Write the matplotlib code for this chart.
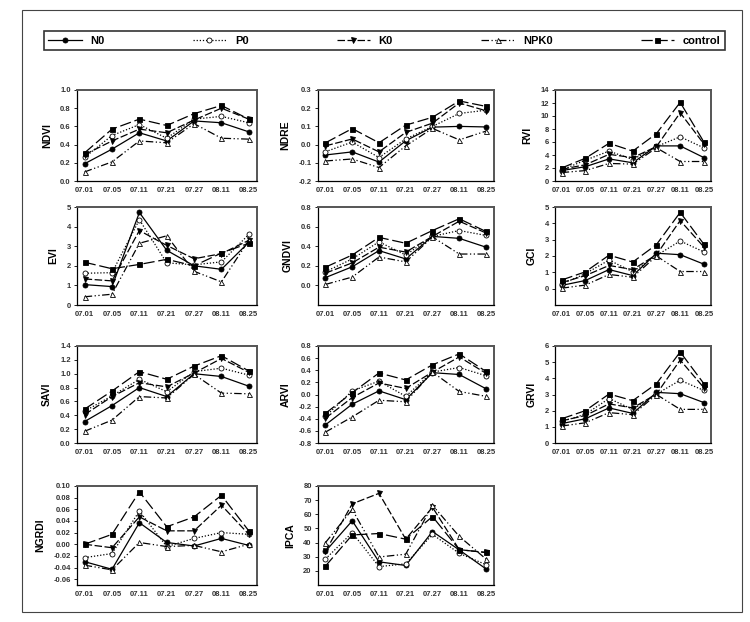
import matplotlib
matplotlib.use("Agg")
import matplotlib.pyplot as plt
from matplotlib.lines import Line2D
from matplotlib.patches import Rectangle
from matplotlib.ticker import FormatStrFormatter

plt.rcParams['font.family'] = ['Liberation Sans', 'DejaVu Sans']
plt.rcParams['axes.unicode_minus'] = False

dates = ["07.01", "07.05", "07.11", "07.21", "07.27", "08.11", "08.25"]
treatments = ["N0", "P0", "K0", "NPK0", "control"]

# values, one dict per index
ndvi = {"N0": [0.19, 0.35, 0.53, 0.44, 0.66, 0.64, 0.54],
        "P0": [0.26, 0.50, 0.62, 0.47, 0.68, 0.71, 0.64],
        "K0": [0.29, 0.44, 0.57, 0.53, 0.67, 0.80, 0.68],
        "NPK0": [0.10, 0.21, 0.44, 0.42, 0.63, 0.47, 0.46],
        "control": [0.31, 0.57, 0.68, 0.61, 0.74, 0.83, 0.68]}
ndre = {"N0": [-0.057, -0.040, -0.096, 0.021, 0.096, 0.100, 0.097],
        "P0": [-0.039, 0.014, -0.071, 0.031, 0.100, 0.171, 0.189],
        "K0": [-0.007, 0.031, -0.040, 0.067, 0.118, 0.229, 0.186],
        "NPK0": [-0.090, -0.079, -0.126, -0.007, 0.089, 0.026, 0.074],
        "control": [0.010, 0.088, 0.010, 0.107, 0.150, 0.240, 0.210]}
rvi = {"N0": [1.6, 2.2, 3.4, 2.8, 5.4, 5.4, 3.6],
       "P0": [1.7, 3.2, 4.6, 3.3, 5.3, 6.8, 5.1],
       "K0": [1.8, 2.5, 4.1, 3.6, 5.3, 10.5, 5.7],
       "NPK0": [1.3, 1.6, 2.7, 2.6, 5.1, 3.0, 3.0],
       "control": [2.0, 3.5, 5.8, 4.6, 7.3, 12.1, 6.0]}
evi = {"N0": [1.04, 0.94, 4.72, 2.79, 2.00, 1.82, 3.20],
       "P0": [1.62, 1.65, 4.35, 2.15, 2.05, 2.20, 3.60],
       "K0": [1.33, 1.23, 3.80, 3.04, 2.36, 2.62, 3.30],
       "NPK0": [0.42, 0.55, 3.15, 3.53, 1.72, 1.18, 3.30],
       "control": [2.18, 1.85, 2.07, 2.33, 2.00, 2.65, 3.15]}
gndvi = {"N0": [0.08, 0.19, 0.355, 0.27, 0.50, 0.48, 0.39],
         "P0": [0.14, 0.27, 0.445, 0.31, 0.50, 0.56, 0.51],
         "K0": [0.125, 0.23, 0.39, 0.34, 0.50, 0.655, 0.535],
         "NPK0": [0.01, 0.085, 0.29, 0.24, 0.495, 0.32, 0.32],
         "control": [0.186, 0.31, 0.49, 0.43, 0.56, 0.68, 0.55]}
gci = {"N0": [0.20, 0.50, 1.17, 0.80, 2.17, 2.08, 1.50],
       "P0": [0.28, 0.92, 1.75, 1.03, 2.03, 2.92, 2.25],
       "K0": [0.37, 0.80, 1.42, 1.17, 2.08, 4.17, 2.55],
       "NPK0": [0.03, 0.22, 0.87, 0.70, 2.00, 1.05, 1.05],
       "control": [0.53, 1.03, 2.05, 1.63, 2.70, 4.67, 2.72]}
savi = {"N0": [0.31, 0.54, 0.80, 0.67, 1.00, 0.96, 0.82],
        "P0": [0.46, 0.68, 0.92, 0.74, 1.03, 1.08, 0.98],
        "K0": [0.41, 0.67, 0.87, 0.81, 1.01, 1.22, 1.02],
        "NPK0": [0.17, 0.33, 0.67, 0.65, 0.99, 0.72, 0.71],
        "control": [0.49, 0.75, 1.03, 0.92, 1.11, 1.26, 1.04]}
arvi = {"N0": [-0.50, -0.16, 0.06, -0.085, 0.36, 0.33, 0.095],
        "P0": [-0.36, 0.06, 0.22, -0.03, 0.37, 0.445, 0.31],
        "K0": [-0.39, -0.05, 0.19, 0.10, 0.37, 0.62, 0.35],
        "NPK0": [-0.62, -0.37, -0.095, -0.12, 0.37, 0.05, -0.03],
        "control": [-0.31, 0.03, 0.355, 0.24, 0.49, 0.67, 0.38]}
grvi = {"N0": [1.20, 1.50, 2.17, 1.83, 3.13, 3.05, 2.50],
        "P0": [1.33, 1.78, 2.75, 2.08, 3.03, 3.88, 3.25],
        "K0": [1.37, 1.70, 2.42, 2.17, 3.03, 5.13, 3.42],
        "NPK0": [1.05, 1.25, 1.88, 1.75, 3.00, 2.08, 2.08],
        "control": [1.50, 2.00, 3.03, 2.62, 3.67, 5.63, 3.67]}
ngrdi = {"N0": [-0.030, -0.043, 0.037, 0.003, -0.003, 0.010, -0.002],
         "P0": [-0.023, -0.016, 0.057, -0.004, 0.010, 0.020, 0.017],
         "K0": [0.000, -0.006, 0.047, 0.023, 0.023, 0.067, 0.017],
         "NPK0": [-0.036, -0.044, 0.003, -0.004, -0.002, -0.013, 0.000],
         "control": [0.000, 0.017, 0.090, 0.030, 0.047, 0.084, 0.023]}
ipca = {"N0": [33.8, 55.4, 26.4, 23.8, 47.8, 34.8, 21.4],
        "P0": [28.4, 47.0, 23.0, 25.0, 45.8, 32.4, 24.4],
        "K0": [33.8, 67.4, 74.8, 42.4, 65.0, 35.0, 33.0],
        "NPK0": [40.0, 63.4, 29.8, 31.8, 66.4, 44.4, 28.4],
        "control": [23.4, 45.4, 46.4, 42.4, 58.4, 35.0, 33.0]}

styles = {
    "N0": dict(linestyle="-", marker="o", markerfacecolor="black"),
    "P0": dict(linestyle=(0, (1, 1.5)), marker="o", markerfacecolor="white"),
    "K0": dict(linestyle=(0, (6, 2)), marker="v", markerfacecolor="black"),
    "NPK0": dict(linestyle=(0, (6, 2, 1, 2, 1, 2)), marker="^", markerfacecolor="white"),
    "control": dict(linestyle=(0, (9, 3)), marker="s", markerfacecolor="black"),
}

# (row, col, label, data, ylim, yticks, format)
panels = [
    (0, 0, "NDVI", ndvi, (0, 1.0), [0, 0.2, 0.4, 0.6, 0.8, 1.0], "%.1f"),
    (0, 1, "NDRE", ndre, (-0.2, 0.3), [-0.2, -0.1, 0, 0.1, 0.2, 0.3], "%.1f"),
    (0, 2, "RVI", rvi, (0, 14), [0, 2, 4, 6, 8, 10, 12, 14], "%d"),
    (1, 0, "EVI", evi, (0, 5), [0, 1, 2, 3, 4, 5], "%d"),
    (1, 1, "GNDVI", gndvi, (-0.2, 0.8), [0, 0.2, 0.4, 0.6, 0.8], "%.1f"),
    (1, 2, "GCI", gci, (-1, 5), [0, 1, 2, 3, 4, 5], "%d"),
    (2, 0, "SAVI", savi, (0, 1.4), [0, 0.2, 0.4, 0.6, 0.8, 1.0, 1.2, 1.4], "%.1f"),
    (2, 1, "ARVI", arvi, (-0.8, 0.8), [-0.8, -0.6, -0.4, -0.2, 0, 0.2, 0.4, 0.6, 0.8], "%.1f"),
    (2, 2, "GRVI", grvi, (0, 6), [0, 1, 2, 3, 4, 5, 6], "%d"),
    (3, 0, "NGRDI", ngrdi, (-0.07, 0.10), [-0.06, -0.04, -0.02, 0, 0.02, 0.04, 0.06, 0.08, 0.10], "%.2f"),
    (3, 1, "IPCA", ipca, (10, 80), [20, 30, 40, 50, 60, 70, 80], "%d"),
]

W, H = 750, 622
cols = [(77, 257), (318, 494), (555, 711)]
rows = [(90, 181), (207, 305), (346, 443), (486, 585)]

fig = plt.figure(figsize=(W / 100, H / 100), dpi=100)
x = list(range(len(dates)))

for r, c, name, data, ylim, yticks, fmt in panels:
    x0, x1 = cols[c]
    y0, y1 = rows[r]
    ax = fig.add_axes([x0 / W, 1 - y1 / H, (x1 - x0) / W, (y1 - y0) / H])
    for t in treatments:
        ax.plot(x, data[t], color="black", linewidth=0.9, markersize=3.6,
                markeredgewidth=0.6, markeredgecolor="black", **styles[t])
    ax.set_xlim(-0.28, 6.3)
    ax.set_ylim(*ylim)
    ax.set_yticks(yticks)
    ax.yaxis.set_major_formatter(FormatStrFormatter(fmt))
    ax.set_xticks(x)
    ax.set_xticklabels(dates)
    ax.tick_params(axis="both", labelsize=5.5, length=2.5, width=0.6, pad=2)
    ax.tick_params(axis="x", length=0, pad=4)
    for lab in ax.get_xticklabels() + ax.get_yticklabels():
        lab.set_fontweight("bold")
        lab.set_color("#333333")
    ax.set_ylabel(name, fontsize=7.5, fontweight="bold", labelpad=6)
    for s in ["left", "bottom"]:
        ax.spines[s].set_linewidth(0.9)
    for s in ["top", "right"]:
        ax.spines[s].set_linewidth(1.4)
        ax.spines[s].set_color("#555555")

# legend box at the top
handles = [Line2D([], [], color="black", linewidth=0.9, markersize=3.6,
                  markeredgewidth=0.6, markeredgecolor="black", **styles[t])
           for t in treatments]
leg = fig.legend(handles, treatments, loc="lower left", ncol=5, mode="expand",
                 bbox_to_anchor=(44 / W, 1 - 50 / H, (725 - 44) / W, 26 / H),
                 frameon=True, fancybox=False, handlelength=3, borderaxespad=0,
                 prop={"size": 8, "weight": "bold"})
leg.get_frame().set_edgecolor("black")
leg.get_frame().set_linewidth(1.2)

# outer frame
fig.add_artist(Rectangle((22 / W, 1 - 612 / H), (742 - 22) / W, (612 - 10) / H,
                         transform=fig.transFigure, fill=False,
                         edgecolor="#444444", linewidth=0.8))

fig.savefig("out.png", dpi=100)
